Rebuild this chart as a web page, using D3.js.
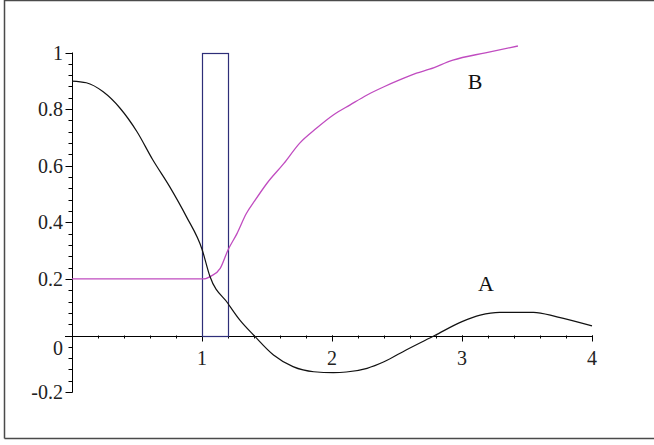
<!DOCTYPE html>
<html>
<head>
<meta charset="utf-8">
<script src="https://cdn.jsdelivr.net/npm/d3@7"></script>
<style>
  html, body { margin: 0; padding: 0; background: #fff; }
  svg { display: block; }
</style>
</head>
<body>
<div id="chart"></div>
<script>
// curve A (black)
const curveA = [
  [0, 0.899], [0.11, 0.893], [0.24, 0.861], [0.37, 0.803], [0.5, 0.72],
  [0.62, 0.622], [0.75, 0.527], [0.88, 0.42], [1.0, 0.305], [1.06, 0.21],
  [1.2, 0.113], [1.29, 0.055], [1.4, 0], [1.55, -0.069], [1.7, -0.11],
  [1.86, -0.128], [2.01, -0.131], [2.11, -0.129], [2.27, -0.116], [2.4, -0.093],
  [2.57, -0.051], [2.79, 0], [3.0, 0.049], [3.14, 0.072], [3.29, 0.082],
  [3.55, 0.082], [3.73, 0.066], [4.0, 0.034]
];

// curve B (magenta)
const curveB = [
  [0, 0.2], [1.01, 0.2], [1.07, 0.21], [1.14, 0.237], [1.2, 0.302],
  [1.27, 0.361], [1.34, 0.43], [1.41, 0.479], [1.5, 0.538], [1.63, 0.608],
  [1.75, 0.679], [1.88, 0.732], [2.01, 0.779], [2.14, 0.815], [2.27, 0.85],
  [2.4, 0.879], [2.52, 0.903], [2.65, 0.927], [2.75, 0.941], [2.93, 0.973],
  [3.18, 0.999], [3.43, 1.023]
];

// box on the interval [1, 1.2]
const boxX = [1, 1.2];
const boxY = [0, 1];

const xTicks = [1, 2, 3, 4];
const yTicks = [-0.2, 0.2, 0.4, 0.6, 0.8, 1];
const curveLabels = [
  { text: "A", x: 3.185, y: 0.186 },
  { text: "B", x: 3.1, y: 0.899 }
];

const width = 654;
const height = 445;

const svg = d3.select("#chart")
  .append("svg")
  .attr("width", width)
  .attr("height", height);

// picture frame
svg.append("path")
  .attr("d", `M4.5,438.5 L4.5,0.5 L654,0.5 M4.5,438.5 L654,438.5`)
  .attr("fill", "none")
  .attr("stroke", "#4a4a4a")
  .attr("stroke-width", 1.5);

const x = d3.scaleLinear().domain([0, 4]).range([72, 592]);
const y = d3.scaleLinear().domain([0, 1]).range([335.5, 52.5]);

const font = "'Liberation Serif', 'Times New Roman', serif";
const snap = (v) => Math.round(v) + 0.5;

// y axis line and ticks
svg.append("line")
  .attr("x1", snap(x(0))).attr("x2", snap(x(0)))
  .attr("y1", y(-0.2)).attr("y2", y(1))
  .attr("stroke", "#000");

const yMinor = d3.range(-0.2, 1.0001, 0.04);
svg.selectAll("line.ymin")
  .data(yMinor)
  .enter().append("line")
  .attr("class", "ymin")
  .attr("x1", snap(x(0)) - 4).attr("x2", snap(x(0)))
  .attr("y1", (d) => snap(y(d)))
  .attr("y2", (d) => snap(y(d)))
  .attr("stroke", "#000");

svg.selectAll("line.ymaj")
  .data(yTicks)
  .enter().append("line")
  .attr("class", "ymaj")
  .attr("x1", snap(x(0)) - 7).attr("x2", snap(x(0)))
  .attr("y1", (d) => snap(y(d)))
  .attr("y2", (d) => snap(y(d)))
  .attr("stroke", "#000");

svg.selectAll("text.ylab")
  .data(yTicks)
  .enter().append("text")
  .attr("class", "ylab")
  .attr("x", 63)
  .attr("y", (d) => y(d))
  .attr("dy", "0.35em")
  .attr("text-anchor", "end")
  .attr("font-family", font)
  .attr("font-size", 20)
  .attr("fill", "#222")
  .text((d) => String(d));

// zero label sits a little below the x axis
svg.append("text")
  .attr("x", 63)
  .attr("y", y(0) + 12)
  .attr("dy", "0.35em")
  .attr("text-anchor", "end")
  .attr("font-family", font)
  .attr("font-size", 20)
  .attr("fill", "#222")
  .text("0");

// x axis line and ticks
svg.append("line")
  .attr("x1", x(0) - 7).attr("x2", x(4))
  .attr("y1", snap(y(0))).attr("y2", snap(y(0)))
  .attr("stroke", "#000");

const xMinor = d3.range(0.2, 4.0001, 0.2);
svg.selectAll("line.xmin")
  .data(xMinor)
  .enter().append("line")
  .attr("class", "xmin")
  .attr("x1", (d) => snap(x(d)))
  .attr("x2", (d) => snap(x(d)))
  .attr("y1", y(0)).attr("y2", y(0) + 3)
  .attr("stroke", "#000");

svg.selectAll("line.xmaj")
  .data(xTicks)
  .enter().append("line")
  .attr("class", "xmaj")
  .attr("x1", (d) => snap(x(d)))
  .attr("x2", (d) => snap(x(d)))
  .attr("y1", y(0)).attr("y2", y(0) + 6)
  .attr("stroke", "#000");

svg.selectAll("text.xlab")
  .data(xTicks)
  .enter().append("text")
  .attr("class", "xlab")
  .attr("x", (d) => x(d))
  .attr("y", y(0) + 22)
  .attr("dy", "0.35em")
  .attr("text-anchor", "middle")
  .attr("font-family", font)
  .attr("font-size", 20)
  .attr("fill", "#222")
  .text((d) => d);

// box
svg.append("rect")
  .attr("x", snap(x(boxX[0])))
  .attr("y", snap(y(boxY[1])))
  .attr("width", Math.round(x(boxX[1]) - x(boxX[0])))
  .attr("height", Math.round(y(boxY[0]) - y(boxY[1])))
  .attr("fill", "none")
  .attr("stroke", "#2e2e78")
  .attr("stroke-width", 1.2);

const line = d3.line()
  .x((d) => x(d[0]))
  .y((d) => y(d[1]))
  .curve(d3.curveMonotoneX);

svg.append("path")
  .datum(curveB)
  .attr("d", line)
  .attr("fill", "none")
  .attr("stroke", "#c04cc0")
  .attr("stroke-width", 1.3);

svg.append("path")
  .datum(curveA)
  .attr("d", line)
  .attr("fill", "none")
  .attr("stroke", "#111")
  .attr("stroke-width", 1.2);

svg.selectAll("text.curve-label")
  .data(curveLabels)
  .enter().append("text")
  .attr("class", "curve-label")
  .attr("x", (d) => x(d.x))
  .attr("y", (d) => y(d.y))
  .attr("dy", "0.35em")
  .attr("text-anchor", "middle")
  .attr("font-family", font)
  .attr("font-size", 22)
  .attr("fill", "#111")
  .text((d) => d.text);
</script>
</body>
</html>
